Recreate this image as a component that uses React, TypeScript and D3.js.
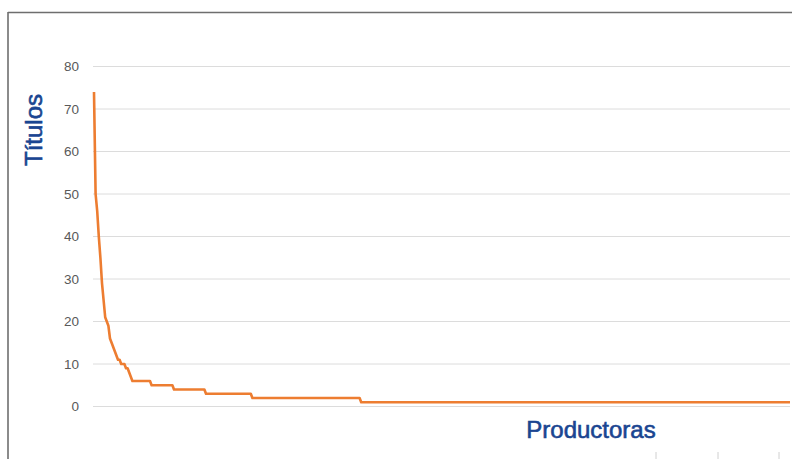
import React from "react";
import * as d3 from "d3";

// Head of the ranking: titles per producer (first producers, read individually)
const headValues: number[] = [74, 50, 46, 40, 35, 29, 25, 21, 20, 19, 16, 15, 14, 13, 12, 11, 11, 10, 10, 10, 9, 9, 8, 7];
// Tail of the ranking as runs: value and number of producers with that value
const tailValues: number[] = [6, 5, 4, 3, 2, 1];
const tailCounts: number[] = [12, 14, 20, 29, 68, 269];
const yTicks: number[] = [0, 10, 20, 30, 40, 50, 60, 70, 80];
const yTitle = "Títulos";
const xTitle = "Productoras";
const cornerTicks: number[] = [656, 718, 779];

const series: number[] = [...headValues];
tailValues.forEach((v, k) => {
  for (let j = 0; j < tailCounts[k]; j++) series.push(v);
});

export default function App() {
  const W = 792;
  const H = 459;
  const x = d3.scaleLinear().domain([0, series.length - 1]).range([94, 790]);
  const y = d3.scaleLinear().domain([0, 80]).range([406.5, 66.5]);
  const line = d3
    .line<number>()
    .x((_, i) => x(i))
    .y((d) => y(d))
    .curve(d3.curveLinear);

  return (
    <svg
      width={W}
      height={H}
      style={{ position: "fixed", left: 0, top: 0, background: "#fff" }}
      fontFamily="'Liberation Sans', Arial, sans-serif"
    >
      <rect x={0} y={0} width={W} height={H} fill="#fff" />
      {/* frame */}
      <line x1={8} y1={12.5} x2={W} y2={12.5} stroke="#6e6e6e" strokeWidth={1.6} />
      <line x1={8} y1={12} x2={8} y2={H} stroke="#6e6e6e" strokeWidth={1.6} />
      {/* gridlines */}
      {yTicks.map((t) => (
        <line key={"g" + t} x1={93} x2={790} y1={y(t)} y2={y(t)} stroke="#dcdcdc" strokeWidth={1} />
      ))}
      {/* y tick labels */}
      {yTicks.map((t) => (
        <text
          key={"t" + t}
          x={79}
          y={y(t)}
          dy="0.36em"
          textAnchor="end"
          fontSize={13.5}
          fill="#595959"
        >
          {t}
        </text>
      ))}
      {/* line */}
      <path d={line(series) || ""} fill="none" stroke="#ed7d31" strokeWidth={2.6} strokeLinejoin="round" />
      {/* axis titles */}
      <text
        transform={`translate(42,130) rotate(-90)`}
        textAnchor="middle"
        fontSize={24}
        fill="#1a4591"
        stroke="#1a4591"
        strokeWidth={0.6}
      >
        {yTitle}
      </text>
      <text x={591} y={438} textAnchor="middle" fontSize={24} fill="#1a4591" stroke="#1a4591" strokeWidth={0.6}>
        {xTitle}
      </text>
      {/* small marks at bottom */}
      {cornerTicks.map((cx) => (
        <line key={"c" + cx} x1={cx} x2={cx} y1={452} y2={H} stroke="#d0d0d0" strokeWidth={1} />
      ))}
    </svg>
  );
}
